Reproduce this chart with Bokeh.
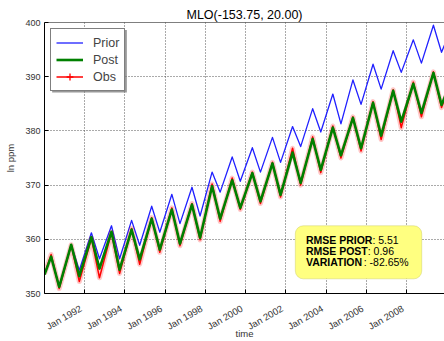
import math
import pandas as pd
from bokeh.plotting import figure
from bokeh.models import (Range1d, FixedTicker, DatetimeTickFormatter, Span,
                          Legend, LegendItem, BoxAnnotation, Label)
from bokeh.embed import file_html
from bokeh.resources import INLINE

# ---------------- data ----------------
years = list(range(1990, 2010))
prior_peak = [356.8, 359.0, 361.2, 362.5, 363.5, 366.1, 368.3, 369.6, 372.4, 375.2,
              376.9, 378.8, 380.8, 384.1, 386.8, 389.4, 392.3, 394.8, 396.8, 399.5]
prior_trough = [351.3, 354.3, 356.4, 356.4, 358.9, 361.3, 362.9, 364.3, 368.7, 370.7,
                372.4, 374.2, 377.1, 379.8, 381.3, 384.9, 387.7, 390.8, 392.5, 394.5]
post_peak = [356.8, 359.0, 360.4, 361.4, 361.8, 363.8, 365.5, 366.4, 369.8, 370.9,
             372.2, 374.0, 376.0, 378.5, 380.6, 382.4, 385.2, 387.4, 388.7, 390.7]
post_trough = [351.2, 353.2, 354.6, 354.4, 356.3, 358.1, 359.2, 360.3, 363.8, 365.8,
               367.0, 368.2, 370.4, 372.8, 375.5, 376.8, 379.1, 381.7, 383.3, 384.8]
obs_peak = [357.2, 359.0, 360.2, 361.3, 362.0, 364.0, 365.8, 366.6, 370.2, 371.3,
            372.4, 374.2, 376.8, 378.9, 380.9, 382.6, 385.4, 387.6, 389.0, 390.9]
obs_trough = [350.9, 352.2, 352.9, 353.7, 355.4, 357.6, 358.8, 359.9, 363.3, 365.5,
              366.6, 367.8, 370.0, 372.3, 375.0, 376.3, 378.4, 380.6, 382.6, 384.3]
first_values = {"prior": 353.5, "post": 353.5, "obs": 353.6}   # Jan 1990
last_values = {"prior": 396.5, "post": 386.8, "obs": 386.5}    # Dec 2009
peak_day = "05-01"
trough_day = "09-25"

tick_years = [1992, 1994, 1996, 1998, 2000, 2002, 2004, 2006, 2008]
tick_labels = [f"Jan {y}" for y in tick_years]
y_ticks = [350, 360, 370, 380, 390, 400]

rmse_prior = "5.51"
rmse_post = "0.96"
variation = "-82.65%"

FONT = "Liberation Sans"
DAY_MS = 86400000.0


def ms(s):
    return pd.Timestamp(s).value / 1e6


def build(peaks, troughs, first, last):
    xs = [pd.Timestamp("1990-01-01")]
    ys = [first]
    for yr, pk, tr in zip(years, peaks, troughs):
        xs += [pd.Timestamp(f"{yr}-{peak_day}"), pd.Timestamp(f"{yr}-{trough_day}")]
        ys += [pk, tr]
    xs.append(pd.Timestamp("2009-12-15"))
    ys.append(last)
    return xs, ys


prior_x, prior_y = build(prior_peak, prior_trough, first_values["prior"], last_values["prior"])
post_x, post_y = build(post_peak, post_trough, first_values["post"], last_values["post"])
obs_x, obs_y = build(obs_peak, obs_trough, first_values["obs"], last_values["obs"])

# ---------------- figure ----------------
p = figure(width=444, height=341, x_axis_type="datetime",
           x_range=Range1d(ms("1990-01-01"), ms("2009-11-18")),
           y_range=Range1d(350, 400),
           output_backend="svg", toolbar_location=None,
           min_border_left=44, min_border_right=0, min_border_top=22, min_border_bottom=47,
           title="MLO(-153.75, 20.00)")
p.outline_line_color = None
p.background_fill_color = "white"
p.border_fill_color = "white"

p.title.text_font = FONT
p.title.text_font_size = "12.5px"
p.title.text_font_style = "normal"
p.title.align = "center"
p.title.text_color = "black"
p.title.standoff = 1

tick_ms = [ms(f"{y}-01-01") for y in tick_years]
# labels are right-anchored; nudge them slightly left of the real (minor) ticks
label_pos = [t - 70 * DAY_MS for t in tick_ms]
xticker = FixedTicker(ticks=label_pos, minor_ticks=tick_ms)

xa = p.xaxis[0]
xa.ticker = xticker
xa.formatter = DatetimeTickFormatter(days="%b %Y", months="%b %Y", years="%b %Y")
xa.major_label_overrides = {lp: lab for lp, lab in zip(label_pos, tick_labels)}
xa.major_label_orientation = math.pi / 6
xa.major_label_text_font = FONT
xa.major_label_text_font_size = "9.5px"
xa.major_label_text_color = "#333333"
xa.major_label_standoff = 8
xa.major_tick_line_color = None
xa.minor_tick_in = 4
xa.minor_tick_out = 0
xa.minor_tick_line_color = "black"
xa.axis_line_color = "black"
xa.axis_label = "time"
xa.axis_label_text_font = FONT
xa.axis_label_text_font_size = "9.5px"
xa.axis_label_text_font_style = "normal"
xa.axis_label_text_color = "#333333"
xa.axis_label_standoff = -12

ya = p.yaxis[0]
ya.ticker = FixedTicker(ticks=y_ticks)
ya.major_label_text_font = FONT
ya.major_label_text_font_size = "9px"
ya.major_label_text_color = "#333333"
ya.axis_label = "ln ppm"
ya.axis_label_text_font = FONT
ya.axis_label_text_font_size = "9.5px"
ya.axis_label_text_font_style = "normal"
ya.axis_label_text_color = "#333333"
ya.axis_label_standoff = 6
ya.major_label_standoff = 4
ya.major_tick_in = 4
ya.major_tick_out = 0
ya.minor_tick_line_color = None
ya.axis_line_color = "black"

# top border of the frame
p.add_layout(Span(location=400, dimension="width", line_color="black", line_width=1))

p.xgrid.ticker = FixedTicker(ticks=tick_ms)
p.ygrid.ticker = FixedTicker(ticks=y_ticks)
for g in (p.xgrid, p.ygrid):
    g.grid_line_color = "#555555"
    g.grid_line_dash = "1 2"
    g.grid_line_width = 1

# ---------------- lines ----------------
blue = p.line(prior_x, prior_y, line_color="#2020ff", line_width=1.3, line_join="round")
p.line(obs_x, obs_y, line_color="#ff0000", line_alpha=0.22, line_width=5, line_join="round")
red = p.line(obs_x, obs_y, line_color="#ff0000", line_width=1.5, line_join="round")
green = p.line(post_x, post_y, line_color="#008000", line_width=2.6, line_join="round")
err = p.scatter(x=[float("nan")], y=[float("nan")], marker="cross",
                size=11, line_color="#ff0000", line_width=1.3)

# legend shadow
p.add_layout(BoxAnnotation(left=ms("1990-05-20"), right=ms("1994-02-04"),
                           top=398.6, bottom=387.1, fill_color="#777777",
                           fill_alpha=0.75, line_color=None))

legend = Legend(items=[LegendItem(label="Prior", renderers=[blue]),
                       LegendItem(label="Post", renderers=[green]),
                       LegendItem(label="Obs", renderers=[red, err])],
                location="top_left", margin=6, padding=5, spacing=0,
                glyph_width=27, glyph_height=17, label_height=17, label_standoff=10,
                label_text_font=FONT, label_text_font_size="12.5px",
                border_line_color="black", border_line_width=1.2,
                background_fill_color="white", background_fill_alpha=1)
p.add_layout(legend)

# stats box
p.add_layout(BoxAnnotation(left=ms("2002-06-20"), right=ms("2008-10-01"),
                           top=362.5, bottom=352.7, fill_color="#ffff80",
                           fill_alpha=1, line_color="#b0b040", line_width=1,
                           border_radius=8))
box_left = ms("2002-06-20")
rows = [("RMSE PRIOR", ": " + rmse_prior, 359.95, 66.5),
        ("RMSE POST", ": " + rmse_post, 357.8, 61.8),
        ("VARIATION", ": " + variation, 355.75, 57.8)]
for bold, val, yv, w in rows:
    p.add_layout(Label(x=box_left, y=yv, x_offset=10.6, text=bold, text_font=FONT,
                       text_font_size="10.5px", text_font_style="bold",
                       text_baseline="middle", text_color="black"))
    p.add_layout(Label(x=box_left, y=yv, x_offset=10.6 + w, text=val, text_font=FONT,
                       text_font_size="10.5px", text_font_style="normal",
                       text_baseline="middle", text_color="black"))

open("out.html", "w").write(file_html(p, INLINE))
